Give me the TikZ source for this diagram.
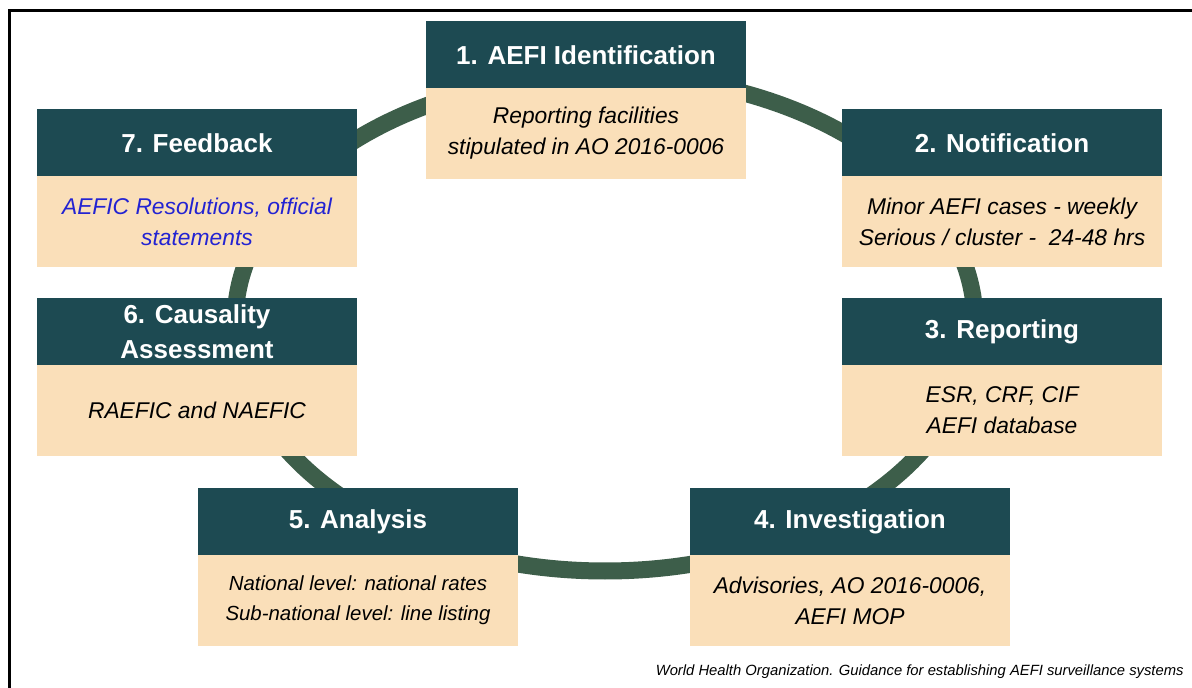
\documentclass[tikz,border=0pt]{standalone}
\usepackage{fontspec}
\setmainfont{Liberation Sans}
\usetikzlibrary{positioning}

\definecolor{headteal}{HTML}{1D4A52}
\definecolor{bodywheat}{HTML}{FADFB9}
\definecolor{ringgreen}{HTML}{3D5E4A}
\definecolor{noteblue}{HTML}{2323D2}

\begin{document}
\begin{tikzpicture}[x=0.5pt, y=-0.5pt]
    \tikzstyle{head} = [rectangle, minimum width=160pt, minimum height=34pt, inner sep=0pt, outer sep=0pt, fill=headteal, text=white, align=center, font=\bfseries\fontsize{13}{17.5}\selectfont]
    \tikzstyle{body} = [rectangle, minimum width=160pt, minimum height=45.5pt, inner sep=0pt, outer sep=0pt, fill=bodywheat, text=black, align=center, font=\itshape\fontsize{11.4}{15.5}\selectfont]
    \tikzstyle{ring} = [draw=ringgreen, line width=8.5pt]
    \useasboundingbox (0,0) rectangle (1192,688);
    % Frame
    \draw [line width=1.5pt] (9,688) -- (9,11) -- (1192,11);
    % Ring behind the boxes
    \coordinate (hub) at (605,323);
    \draw [ring] (hub) ellipse [x radius=185pt, y radius=124pt];
    % Nodes
    \node (ident) [head] at (586,55) {1. AEFI Identification};
    \node (identtxt) [body, below=-0.5pt of ident] {Reporting facilities\\stipulated in AO 2016-0006};
    \node (notif) [head] at (1002,143) {2. Notification};
    \node (notiftxt) [body, below=-0.5pt of notif] {Minor AEFI cases - weekly\\Serious / cluster -\ \ 24-48 hrs};
    \node (report) [head] at (1002,332) {3. Reporting};
    \node (reporttxt) [body, below=-0.5pt of report] {ESR, CRF,\ CIF\\AEFI database};
    \node (invest) [head] at (850,522) {4. Investigation};
    \node (investtxt) [body, below=-0.5pt of invest] {Advisories, AO 2016-0006,\\AEFI MOP};
    \node (analysis) [head] at (358,522) {5. Analysis};
    \node (analysistxt) [body, below=-0.5pt of analysis, font=\itshape\fontsize{10.2}{15}\selectfont] {National level: national rates\\Sub-national level: line listing};
    \node (causal) [head] at (197,332) {6. Causality\\Assessment};
    \node (causaltxt) [body, below=-0.5pt of causal] {RAEFIC and NAEFIC};
    \node (feedback) [head] at (197,143) {7. Feedback};
    \node (feedbacktxt) [body, below=-0.5pt of feedback, text=noteblue] {AEFIC Resolutions, official\\statements};
    \node (source) [anchor=east, inner sep=0pt, font=\itshape\fontsize{7.4}{9}\selectfont] at (1184,672) {World Health Organization. Guidance for establishing AEFI surveillance systems};
\end{tikzpicture}
\end{document}
